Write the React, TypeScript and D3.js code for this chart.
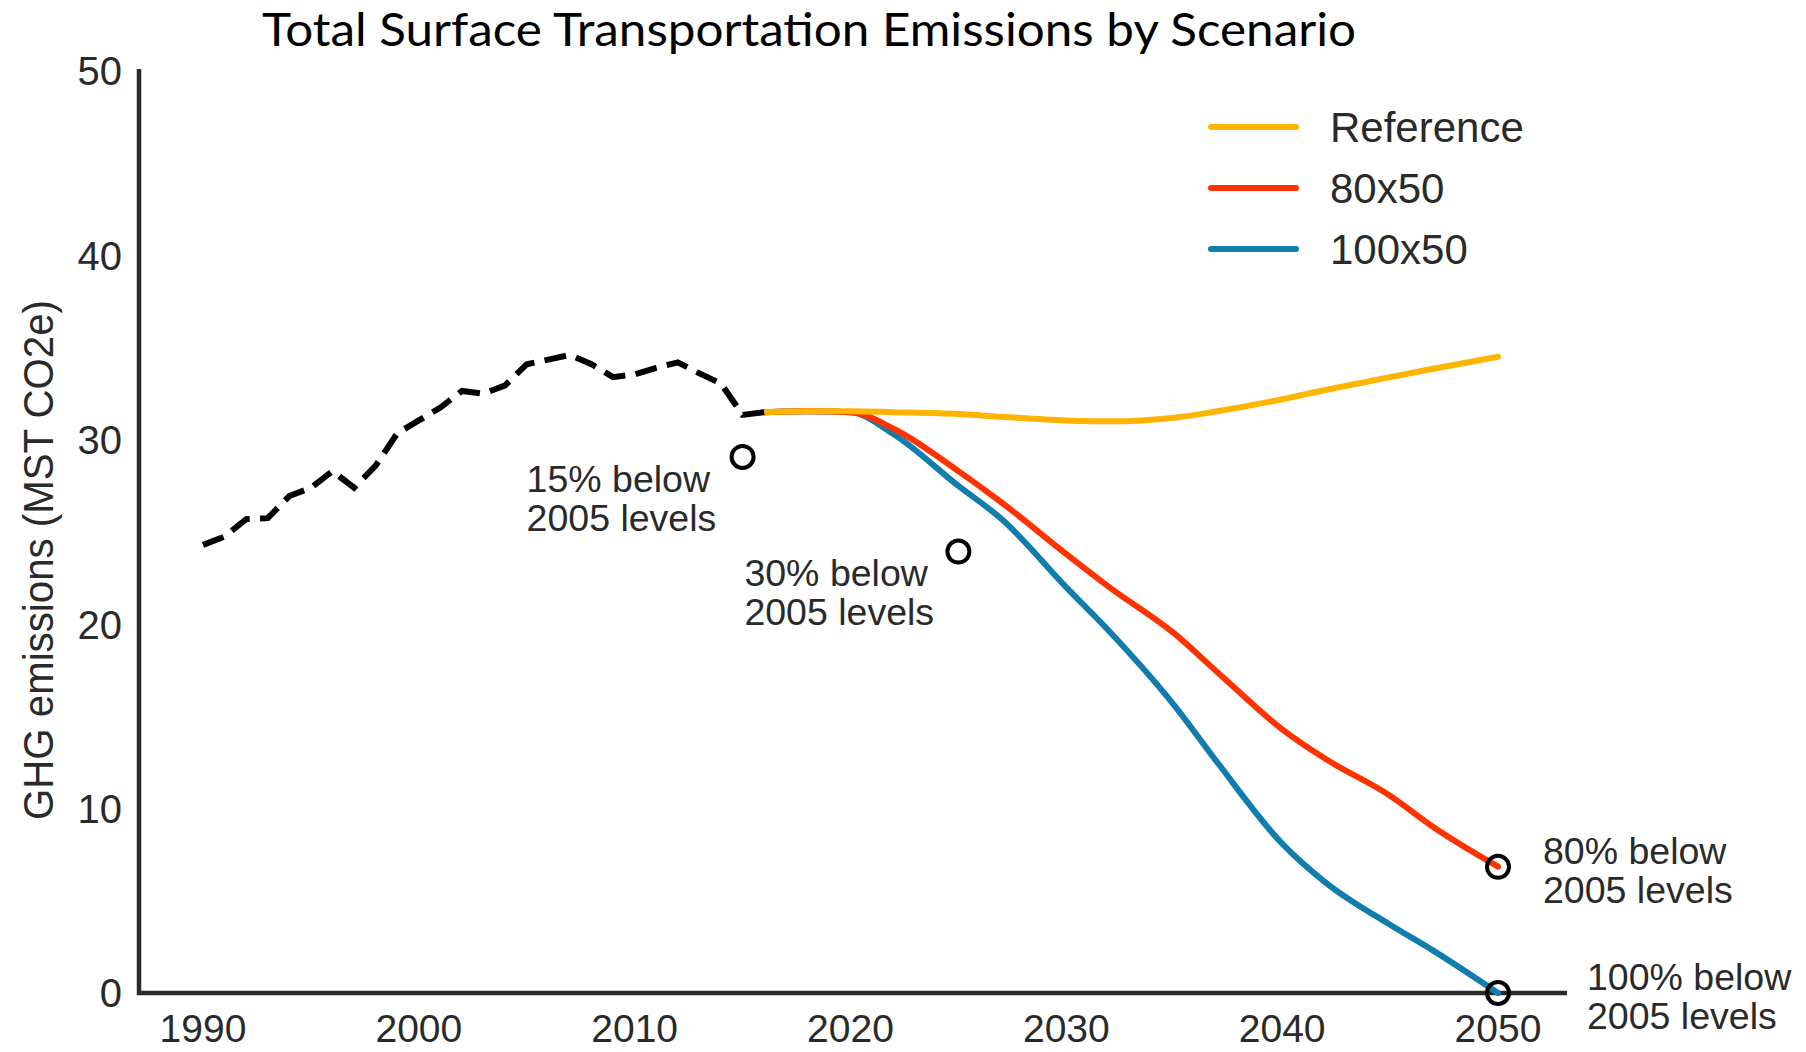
import React from "react";
import * as d3 from "d3";

const historicYears = [1990,1991,1992,1993,1994,1995,1996,1997,1998,1999,2000,2001,2002,2003,2004,2005,2006,2007,2008,2009,2010,2011,2012,2013,2014,2015,2016];
const historicValues = [24.3,24.75,25.7,25.75,26.95,27.4,28.3,27.4,28.6,30.35,31.05,31.75,32.65,32.5,32.95,34.1,34.35,34.6,34.1,33.4,33.55,33.9,34.2,33.6,33.05,31.35,31.5];

const scenarioYears = [2016,2018,2020,2022,2025,2027,2030,2032,2035,2037,2040,2042,2045,2047,2050];
const referenceValues = [31.5,31.55,31.55,31.5,31.4,31.25,31.05,31.0,31.2,31.55,32.2,32.7,33.4,33.85,34.5];
const values80x50 = [31.5,31.55,31.5,30.6,28.3,26.6,23.8,22.0,19.5,17.4,14.3,12.7,10.7,9.0,6.85];
const values100x50 = [31.5,31.55,31.5,30.3,27.5,25.7,22.0,19.6,15.6,12.5,8.1,6.0,3.7,2.3,0];

const seriesNames = ["Reference", "80x50", "100x50"];
const seriesColors = ["#FFB400", "#FF3300", "#0F7DAE"];

const xTicks = [1990, 2000, 2010, 2020, 2030, 2040, 2050];
const yTicks = [0, 10, 20, 30, 40, 50];

const base2005 = 34.2;
const targetYears = [2015, 2025, 2050, 2050];
const targetPercents = [15, 30, 80, 100];
const targetLabels = [["15% below", "2005 levels"], ["30% below", "2005 levels"], ["80% below", "2005 levels"], ["100% below", "2005 levels"]];
const labelOffsets = [[-216, 35], [-214, 34], [45, -3], [89, -3]];

const W = 1806, H = 1052;

export default function App() {
  const x = d3.scaleLinear().domain([1990, 2050]).range([203, 1498]);
  const y = d3.scaleLinear().domain([0, 50]).range([993, 71]);

  const histLine = d3.line<number>().x((_, i) => x(historicYears[i])).y((d) => y(d));
  // fit dash pattern so both ends land on a dash
  let totalLen = 0;
  for (let i = 1; i < historicYears.length; i++) {
    totalLen += Math.hypot(x(historicYears[i]) - x(historicYears[i - 1]), y(historicValues[i]) - y(historicValues[i - 1]));
  }
  const dashLen = 22;
  const gap0 = 10;
  const nDash = Math.round((totalLen + gap0) / (dashLen + gap0));
  const gapLen = (totalLen - nDash * dashLen) / (nDash - 1);

  const scenLine = d3.line<number>().x((_, i) => x(scenarioYears[i])).y((d) => y(d)).curve(d3.curveMonotoneX);
  const seriesValues = [referenceValues, values80x50, values100x50];
  const drawOrder = [2, 1, 0];
  const font = "'Liberation Sans', Arial, sans-serif";
  const textColor = "#2a2a2a";

  return (
    <svg width={W} height={H} style={{ position: "absolute", left: 0, top: 0, background: "#fff" }} fontFamily={font}>
      <rect width={W} height={H} fill="#fff" />
      <text x={809} y={46} textAnchor="middle" fontFamily="Lato, 'Open Sans', sans-serif" fontSize={46} fill="#000" textLength={1094} lengthAdjust="spacingAndGlyphs">
        Total Surface Transportation Emissions by Scenario
      </text>
      {/* axes */}
      <line x1={139} x2={139} y1={69} y2={995} stroke="#2b2b2b" strokeWidth={4.5} />
      <line x1={137} x2={1567} y1={993} y2={993} stroke="#2b2b2b" strokeWidth={4.5} />
      {yTicks.map((t) => (
        <text key={"y" + t} x={122} y={y(t)} dy="0.36em" textAnchor="end" fontSize={40} fill={textColor}>{t}</text>
      ))}
      {xTicks.map((t) => (
        <text key={"x" + t} x={x(t)} y={1042} textAnchor="middle" fontSize={39} fill={textColor}>{t}</text>
      ))}
      <text transform={`translate(38, 560) rotate(-90)`} textAnchor="middle" dy="0.36em" fontSize={42} fill={textColor} textLength={520} lengthAdjust="spacingAndGlyphs">
        GHG emissions (MST CO2e)
      </text>
      {/* scenario lines */}
      {drawOrder.map((k) => (
        <path key={seriesNames[k]} d={scenLine(seriesValues[k]) || ""} fill="none" stroke={seriesColors[k]} strokeWidth={6} strokeLinecap="round" strokeLinejoin="round" />
      ))}
      {/* historic dashed */}
      <path d={histLine(historicValues) || ""} fill="none" stroke="#000" strokeWidth={6} strokeDasharray={`${dashLen} ${gapLen.toFixed(2)}`} strokeLinejoin="miter" />
      {/* targets */}
      {targetYears.map((yr, i) => {
        const cx = x(yr);
        const cy = y(base2005 * (1 - targetPercents[i] / 100));
        return (
          <g key={"t" + i}>
            <circle cx={cx} cy={cy} r={11} fill="none" stroke="#000" strokeWidth={4} />
            {targetLabels[i].map((s, j) => (
              <text key={j} x={cx + labelOffsets[i][0]} y={cy + labelOffsets[i][1] + j * 39} fontSize={37.5} fill={textColor}>{s}</text>
            ))}
          </g>
        );
      })}
      {/* legend */}
      {seriesNames.map((n, i) => (
        <g key={"l" + n}>
          <line x1={1211} x2={1296} y1={127 + i * 61} y2={127 + i * 61} stroke={seriesColors[i]} strokeWidth={6} strokeLinecap="round" />
          <text x={1330} y={127 + i * 61} dy="0.36em" fontSize={42} fill={textColor}>{n}</text>
        </g>
      ))}
    </svg>
  );
}
